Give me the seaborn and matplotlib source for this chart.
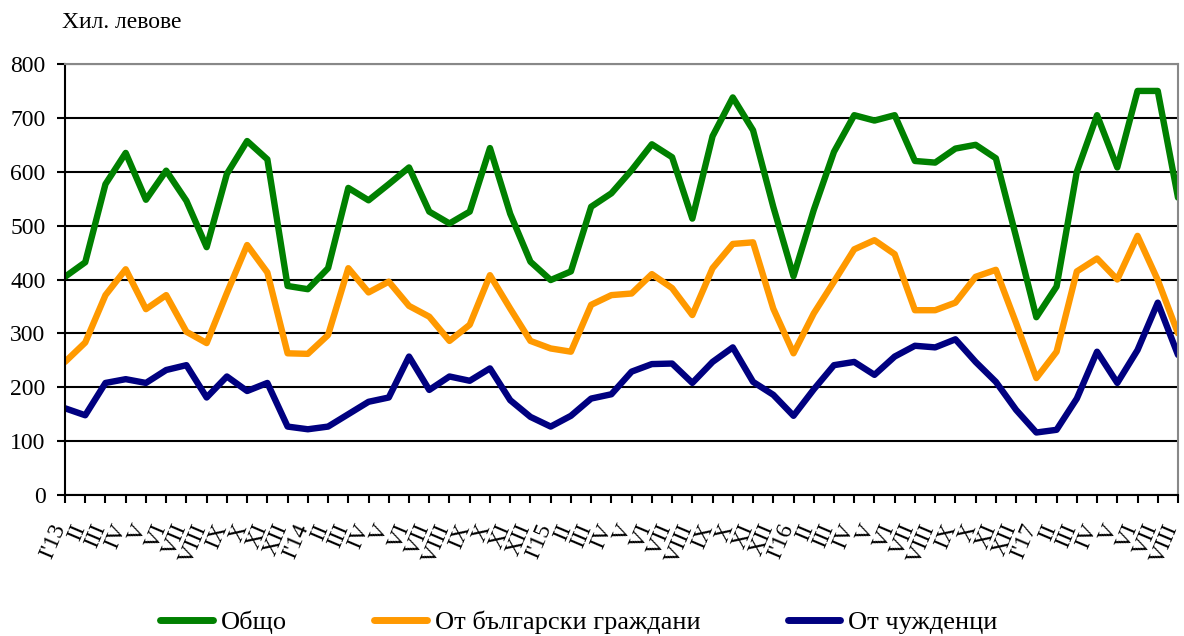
import numpy as np
import pandas as pd
import matplotlib.pyplot as plt
import seaborn as sns

sns.set_theme(style="white")
plt.rcParams["font.family"] = ["Liberation Serif", "DejaVu Serif"]
plt.rcParams["text.color"] = "black"
plt.rcParams["xtick.color"] = "black"
plt.rcParams["ytick.color"] = "black"

roman = ["I", "II", "III", "IV", "V", "VI", "VII", "VIII", "IX", "X", "XI", "XII"]
months = []
for yr in ["13", "14", "15", "16", "17"]:
    for k, r in enumerate(roman):
        months.append("I'" + yr if k == 0 else r)
months = months[:56]

total = [405, 432, 577, 635, 548, 602, 546, 460, 596, 657, 623, 388,
         382, 421, 570, 547, 577, 608, 526, 504, 526, 644, 522, 433,
         399, 415, 535, 560, 603, 651, 627, 513, 666, 738, 677, 535,
         406, 529, 637, 705, 695, 705, 620, 617, 643, 650, 625, 479,
         330, 387, 600, 705, 608, 750, 750, 552]
bulgarians = [247, 283, 371, 419, 345, 371, 303, 282, 375, 464, 413, 263,
              262, 297, 421, 376, 396, 351, 331, 286, 316, 408, 346, 286,
              272, 266, 353, 371, 374, 410, 384, 334, 421, 466, 469, 346,
              263, 337, 396, 456, 473, 447, 343, 343, 357, 405, 418, 319,
              217, 266, 415, 439, 400, 481, 399, 300]
foreigners = [161, 148, 208, 215, 208, 232, 241, 181, 220, 193, 208, 127,
              122, 127, 150, 173, 181, 257, 195, 220, 212, 235, 176, 145,
              127, 147, 179, 187, 229, 243, 244, 208, 247, 274, 210, 186,
              147, 196, 241, 247, 223, 257, 277, 274, 289, 247, 210, 158,
              116, 121, 179, 266, 208, 269, 357, 260]

series_names = ["Общо", "От български граждани", "От чужденци"]
colors = ["#008000", "#FF9900", "#000080"]

df = pd.DataFrame({
    "idx": list(range(len(months))) * 3,
    "value": total + bulgarians + foreigners,
    "series": [series_names[0]] * 56 + [series_names[1]] * 56 + [series_names[2]] * 56,
})

fig = plt.figure(figsize=(11.84, 6.36), dpi=100)
ax = fig.add_axes([65 / 1184, 1 - 495 / 636, (1178 - 65) / 1184, (495 - 64) / 636])

sns.lineplot(data=df, x="idx", y="value", hue="series", palette=colors,
             linewidth=4.6, ax=ax, legend=False)

ax.set_xlim(0, len(months) - 1)
ax.set_ylim(0, 800)
ax.set_yticks(range(0, 801, 100))
ax.set_yticklabels([str(v) for v in range(0, 801, 100)], fontsize=17)
ax.set_xticks(range(len(months)))
# baseline anchoring keeps the rotated labels left of their ticks
ax.set_xticklabels(months, rotation=67, ha="right", va="baseline",
                   rotation_mode="anchor", fontsize=17)
ax.set_xlabel("")
ax.set_ylabel("")

ax.grid(axis="y", color="black", linewidth=1.5)
ax.set_axisbelow(True)
for side in ["left", "bottom"]:
    ax.spines[side].set_color("black")
    ax.spines[side].set_linewidth(1.5)
for side in ["top", "right"]:
    ax.spines[side].set_color("#888888")
    ax.spines[side].set_linewidth(1.5)
ax.tick_params(axis="both", direction="out", length=6, width=1.5,
               left=True, bottom=True)
ax.tick_params(axis="y", pad=8)
ax.tick_params(axis="x", pad=17)

fig.text(62 / 1184, 1 - 22 / 636, "Хил. левове", fontsize=17,
         ha="left", va="center")

handles = [plt.Line2D([], [], color=c, linewidth=5) for c in colors]
fig.legend(handles, series_names, loc="center", ncol=3,
           bbox_to_anchor=(579 / 1184, 0.022), frameon=False, fontsize=19,
           handlelength=2.0, handletextpad=0.3, columnspacing=3.3)

fig.savefig("out.png", dpi=100)
